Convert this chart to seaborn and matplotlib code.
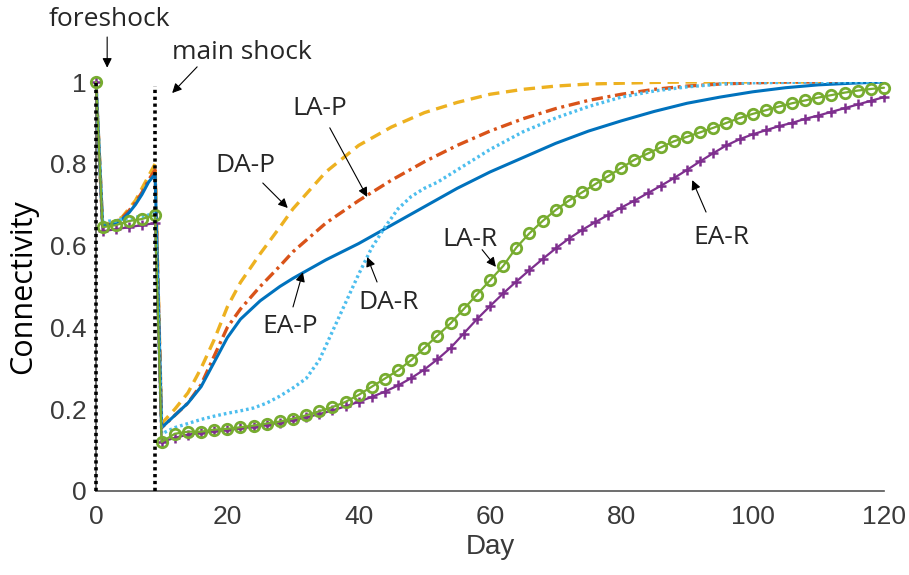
import matplotlib
matplotlib.use("Agg")
import matplotlib.pyplot as plt
import seaborn as sns
import pandas as pd

# ---------------- data ----------------
days_p = [0, 1, 2, 3, 4, 5, 6, 7, 8, 9,
          10, 12, 14, 16, 18, 20, 22, 25, 28, 30,
          35, 40, 45, 50, 55, 60, 65, 70, 75, 80, 85, 90, 95, 100, 105, 110, 115, 120]
da_p = [1.0, 0.65, 0.655, 0.66, 0.67, 0.69, 0.71, 0.74, 0.77, 0.80,
        0.165, 0.20, 0.24, 0.30, 0.37, 0.45, 0.51, 0.58, 0.645, 0.69,
        0.78, 0.845, 0.89, 0.925, 0.95, 0.97, 0.982, 0.99, 0.995, 0.997, 0.999, 1.0, 1.0, 1.0, 1.0, 1.0, 1.0, 1.0]
la_p = [1.0, 0.65, 0.652, 0.658, 0.668, 0.685, 0.705, 0.73, 0.76, 0.785,
        0.155, 0.185, 0.215, 0.26, 0.33, 0.40, 0.445, 0.50, 0.55, 0.585,
        0.655, 0.71, 0.76, 0.805, 0.845, 0.88, 0.91, 0.935, 0.955, 0.97, 0.982, 0.99, 0.995, 0.998, 1.0, 1.0, 1.0, 1.0]
ea_p = [1.0, 0.65, 0.65, 0.655, 0.665, 0.68, 0.70, 0.725, 0.755, 0.775,
        0.155, 0.185, 0.215, 0.255, 0.315, 0.375, 0.42, 0.465, 0.50, 0.52,
        0.565, 0.605, 0.65, 0.695, 0.74, 0.78, 0.815, 0.85, 0.88, 0.905, 0.928, 0.948, 0.963, 0.976, 0.986, 0.993, 0.997, 1.0]

days_dar = [0, 1, 2, 3, 4, 5, 6, 7, 8, 9,
            10, 12, 14, 16, 18, 20, 22, 24, 26, 28, 30, 32, 34, 36, 38, 40, 42, 44, 46, 48, 50, 52,
            55, 60, 65, 70, 75, 80, 85, 90, 95, 100, 110, 120]
da_r = [1.0, 0.655, 0.66, 0.66, 0.665, 0.665, 0.67, 0.67, 0.675, 0.68,
        0.14, 0.155, 0.165, 0.175, 0.183, 0.19, 0.196, 0.203, 0.215, 0.232, 0.252, 0.275, 0.32, 0.39,
        0.46, 0.53, 0.595, 0.645, 0.69, 0.72, 0.74, 0.755,
        0.785, 0.835, 0.878, 0.912, 0.94, 0.963, 0.978, 0.988, 0.995, 0.998, 1.0, 1.0]

days_r = [0, 1, 3, 5, 7, 9] + list(range(10, 121, 2))
la_r = [1.0, 0.645, 0.65, 0.66, 0.665, 0.675,
        0.12, 0.14, 0.145, 0.145, 0.15, 0.152, 0.156, 0.16, 0.165, 0.17,
        0.177, 0.185, 0.195, 0.205, 0.218, 0.235, 0.255, 0.275, 0.295, 0.32,
        0.35, 0.38, 0.41, 0.445, 0.48, 0.515, 0.55, 0.595, 0.63, 0.66,
        0.687, 0.71, 0.73, 0.75, 0.77, 0.79, 0.81, 0.825, 0.84, 0.855,
        0.866, 0.877, 0.888, 0.90, 0.912, 0.922, 0.931, 0.94, 0.948, 0.955,
        0.962, 0.968, 0.974, 0.979, 0.983, 0.986]
ea_r = [1.0, 0.635, 0.64, 0.645, 0.65, 0.655,
        0.12, 0.13, 0.138, 0.142, 0.146, 0.149, 0.153, 0.157, 0.162, 0.167,
        0.173, 0.18, 0.188, 0.197, 0.207, 0.218, 0.23, 0.243, 0.258, 0.276,
        0.297, 0.322, 0.35, 0.385, 0.42, 0.452, 0.483, 0.512, 0.54, 0.567,
        0.593, 0.617, 0.638, 0.657, 0.675, 0.693, 0.71, 0.728, 0.746, 0.765,
        0.785, 0.806, 0.826, 0.845, 0.86, 0.872, 0.882, 0.892, 0.90, 0.91,
        0.918, 0.927, 0.936, 0.945, 0.954, 0.963]

shock_days = [0, 9]
shock_tops = [1.0, 0.99]

x_ticks = [0, 20, 40, 60, 80, 100, 120]
y_ticks = [0, 0.2, 0.4, 0.6, 0.8, 1.0]
y_tick_labels = ["0", "0.2", "0.4", "0.6", "0.8", "1"]

# ---------------- style ----------------
sns.set_style("white")
plt.rcParams["font.family"] = ["Open Sans", "DejaVu Sans"]
TICK_FONT = ["Liberation Sans", "DejaVu Sans"]
AXC = "#555555"
TXC = "#3a3a3a"
ANN = 19

fig = plt.figure(figsize=(9.09, 5.75), dpi=100)
ax = fig.add_axes([96 / 909, 1 - 491 / 575, 788 / 909, 409 / 575])

# series
sns.lineplot(x=days_p, y=da_p, ax=ax, color="#EDB120", linewidth=2.4,
             linestyle=(0, (3.4, 2.0)), zorder=3)
sns.lineplot(x=days_p, y=la_p, ax=ax, color="#D95319", linewidth=2.4,
             linestyle=(0, (3.4, 1.4, 0.9, 1.4)), zorder=3)
sns.lineplot(x=days_p, y=ea_p, ax=ax, color="#0072BD", linewidth=2.2,
             linestyle="-", zorder=3)
sns.lineplot(x=days_dar, y=da_r, ax=ax, color="#4DBEEE", linewidth=2.4,
             linestyle=(0, (0.8, 0.9)), zorder=3)
sns.lineplot(x=days_r, y=ea_r, ax=ax, color="#7E2F8E", linewidth=1.6,
             marker="+", markersize=7, markeredgewidth=1.8,
             markeredgecolor="#7E2F8E", zorder=4, clip_on=False)
sns.lineplot(x=days_r, y=la_r, ax=ax, color="#77AC30", linewidth=1.6,
             marker="o", markersize=7.5, markeredgewidth=2.0,
             markerfacecolor="none", markeredgecolor="#77AC30", zorder=5, clip_on=False)

# shock lines
ax.vlines(shock_days, 0, shock_tops, colors="black", linewidth=2.6,
          linestyles=[(0, (0.9, 1.0))], zorder=6, clip_on=False)

# axes
ax.set_xlim(0, 120)
ax.set_ylim(0, 1)
for s in ["top", "right"]:
    ax.spines[s].set_visible(False)
for s in ["left", "bottom"]:
    ax.spines[s].set_color(AXC)
    ax.spines[s].set_linewidth(1.2)
ax.set_xticks(x_ticks)
ax.set_yticks(y_ticks)
ax.set_yticklabels(y_tick_labels)
ax.tick_params(direction="in", length=6, width=1.0, color=AXC, labelcolor=TXC,
               labelsize=19)
ax.tick_params(axis="x", pad=10)
ax.tick_params(axis="y", pad=7)
for lab in ax.get_xticklabels() + ax.get_yticklabels():
    lab.set_family(TICK_FONT)

ax.set_xlabel("Day", fontsize=20, color=TXC, family=TICK_FONT, labelpad=4)
ax.set_ylabel("Connectivity", fontsize=22, color="black")
ax.yaxis.set_label_coords(-0.074, 0.5)

# annotations
ann_kw = dict(annotation_clip=False,
              arrowprops=dict(arrowstyle="-|>", color="black", lw=0.8,
                              mutation_scale=14, shrinkA=0, shrinkB=0))
ax.annotate("", xy=(1.7, 1.035), xytext=(1.7, 1.11), **ann_kw)
ax.text(2.1, 1.152, "foreshock", fontsize=ANN, ha="center", va="center", clip_on=False)
ax.annotate("", xy=(11.6, 0.973), xytext=(15.4, 1.037), **ann_kw)
ax.text(22.2, 1.073, "main shock", fontsize=ANN, ha="center", va="center", clip_on=False)

ax.annotate("", xy=(29.2, 0.692), xytext=(25.4, 0.753), **ann_kw)
ax.text(22.7, 0.797, "DA-P", fontsize=ANN, ha="center", va="center")
ax.annotate("", xy=(41.3, 0.719), xytext=(35.6, 0.888), **ann_kw)
ax.text(34.1, 0.936, "LA-P", fontsize=ANN, ha="center", va="center")
ax.annotate("", xy=(31.5, 0.535), xytext=(30.0, 0.45), **ann_kw)
ax.text(29.5, 0.401, "EA-P", fontsize=ANN, ha="center", va="center")
ax.annotate("", xy=(41.3, 0.572), xytext=(42.8, 0.511), **ann_kw)
ax.text(44.5, 0.46, "DA-R", fontsize=ANN, ha="center", va="center")
ax.annotate("", xy=(60.9, 0.548), xytext=(58.8, 0.59), **ann_kw)
ax.text(57.0, 0.614, "LA-R", fontsize=ANN, ha="center", va="center")
ax.annotate("", xy=(90.8, 0.76), xytext=(92.9, 0.682), **ann_kw)
ax.text(95.3, 0.619, "EA-R", fontsize=ANN, ha="center", va="center")

fig.savefig("out.png", dpi=100)
